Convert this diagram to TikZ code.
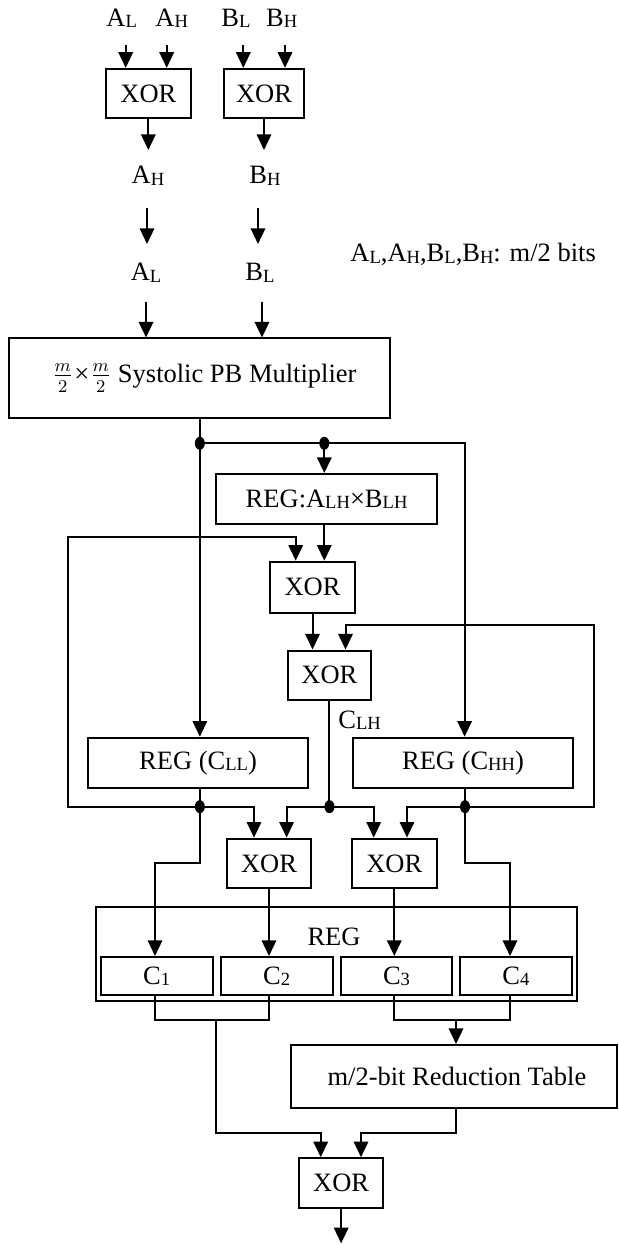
\documentclass[tikz,border=0pt]{standalone}
\usepackage{fontspec}
\setmainfont{Liberation Serif}
\usetikzlibrary{arrows.meta,shapes.geometric}
% small, slightly lowered index letters
\newcommand{\sbs}[1]{\raisebox{-0.6pt}{\fontsize{9.3}{10}\selectfont #1}}

\begin{document}
\begin{tikzpicture}[x=0.5pt,y=-0.5pt,
  font=\fontsize{13.25}{15}\selectfont,
  wire/.style={line width=1pt},
  arr/.style={wire,-{Triangle[length=7.8pt,width=7.2pt]}},
  box/.style={draw,line width=1pt,inner sep=0pt,rectangle},
  xorbox/.style={box,minimum width=42.3pt,minimum height=24.8pt},
  cbox/.style={box,minimum width=55.9pt,minimum height=19pt},
  lbl/.style={inner sep=0pt,anchor=base},
  jdot/.style={ellipse,fill,inner sep=0pt,minimum width=5pt,minimum height=6.5pt}]
\useasboundingbox (0,0) rectangle (619,1245);

% ---- operand halves and the two pre-adders ----
\node[lbl] (al) at (121.7,26.7) {A\sbs{L}};
\node[lbl] (ah) at (171.7,26.7) {A\sbs{H}};
\node[lbl] (bl) at (236,26.7) {B\sbs{L}};
\node[lbl] (bh) at (281.7,26.7) {B\sbs{H}};
\coordinate (al0) at (125.7,45);
\coordinate (ah0) at (166.7,45);
\coordinate (bl0) at (243.3,45);
\coordinate (bh0) at (285,45);

\node[xorbox] (xa) at (148.35,93.65) {XOR};
\node[xorbox,minimum width=40pt] (xb) at (264,93.65) {XOR};
\draw[arr] (al0) -- (al0 |- xa.north);
\draw[arr] (ah0) -- (ah0 |- xa.north);
\draw[arr] (bl0) -- (bl0 |- xb.north);
\draw[arr] (bh0) -- (bh0 |- xb.north);

\coordinate (ah2t) at (148.35,150);
\coordinate (bh2t) at (264,150);
\draw[arr] (xa.south) -- (ah2t);
\draw[arr] (xb.south) -- (bh2t);

\node[lbl] (ah2) at (148,184) {A\sbs{H}};
\node[lbl] (bh2) at (265,184) {B\sbs{H}};
\coordinate (m1s) at (147,208.3);
\coordinate (m1e) at (147,244);
\coordinate (m2s) at (258,208.3);
\coordinate (m2e) at (258,244);
\draw[arr] (m1s) -- (m1e);
\draw[arr] (m2s) -- (m2e);

\node[lbl] (al2) at (146,281) {A\sbs{L}};
\node[lbl] (bl2) at (260,281) {B\sbs{L}};
\node[lbl,anchor=base west] (note) at (350,262)
  {A\sbs{L},A\sbs{H},B\sbs{L},B\sbs{H}: m/2 bits};

% ---- half-size multiplier ----
\node[box,minimum width=190.55pt,minimum height=39.9pt] (mul) at (199.85,378.4)
  {\hspace*{4.5pt}$\frac{m}{2}$\kern0.5pt×\kern0.5pt$\frac{m}{2}$ Systolic PB Multiplier};
\coordinate (l1s) at (146,302);
\coordinate (l2s) at (262,302);
\draw[arr] (l1s) -- (l1s |- mul.north);
\draw[arr] (l2s) -- (l2s |- mul.north);

% ---- junctions ----
\node[jdot] (d1) at (199.85,443.3) {};
\node[jdot] (d2) at (324.3,443.3) {};
\node[jdot] (d3) at (199.85,806.7) {};
\node[jdot] (d4) at (329.45,806.7) {};
\node[jdot] (d5) at (465,806.7) {};

% ---- registers and Karatsuba adders ----
\node[box,minimum width=110.2pt,minimum height=25.15pt] (rlh) at (326.6,499.15)
  {REG:A\sbs{LH}×B\sbs{LH}};
\node[xorbox,minimum width=42.5pt,minimum height=25.5pt] (x1) at (312.5,587.2) {XOR};
\node[xorbox,minimum width=41.95pt] (x2) at (329.45,675.35) {XOR};
\node[box,minimum width=110pt,minimum height=25.3pt] (rcll) at (198,763) {REG (C\sbs{LL})};
\node[box,minimum width=110pt,minimum height=25.3pt] (rchh) at (463,763) {REG (C\sbs{HH})};
\node[xorbox] (x3) at (269,863.4) {XOR};
\node[xorbox] (x4) at (394.3,863.4) {XOR};
\node[lbl,anchor=base west] (clh) at (338,728) {C\sbs{LH}};

\coordinate (rt1) at (464.6,443.3);
\draw[wire] (mul.south) -- (d1.center);
\draw[arr] (d1.center) -- (d1 |- rcll.north);
\draw[arr] (d1.center) -- (rt1) -- (rt1 |- rchh.north);
\draw[arr] (d2.center) -- (d2 |- rlh.north);
\draw[arr] (d2 |- rlh.south) -- (d2 |- x1.north);

% C_LL fed back to the first adder
\coordinate (lp1) at (67.7,806.7);
\coordinate (lp2) at (67.7,537.3);
\coordinate (lp3) at (295.7,537.3);
\draw[arr] (d3.center) -- (lp1) -- (lp2) -- (lp3) -- (lp3 |- x1.north);
\draw[arr] (x1.south) -- (x1.south |- x2.north);

% C_HH fed back to the second adder
\coordinate (rp1) at (593.5,806.7);
\coordinate (rp2) at (593.5,624.5);
\coordinate (rp3) at (345.5,624.5);
\draw[arr] (d5.center) -- (rp1) -- (rp2) -- (rp3) -- (rp3 |- x2.north);

\draw[wire] (x2.south) -- (d4.center);
\draw[wire] (d3 |- rcll.south) -- (d3.center);
\draw[wire] (d5 |- rchh.south) -- (d5.center);

\coordinate (a1) at (254,806.7);
\coordinate (a2) at (286.6,806.7);
\coordinate (a3) at (373.7,806.7);
\coordinate (a4) at (407,806.7);
\draw[arr] (d3.center) -- (a1) -- (a1 |- x3.north);
\draw[arr] (d4.center) -- (a2) -- (a2 |- x3.north);
\draw[arr] (d4.center) -- (a3) -- (a3 |- x4.north);
\draw[arr] (d5.center) -- (a4) -- (a4 |- x4.north);

% ---- result register ----
\node[box,minimum width=240.35pt,minimum height=47.15pt] (regall) at (336.35,953.85) {};
\node[lbl] (reglbl) at (334,945) {REG};
\node[cbox,minimum width=56pt] (c1) at (156.7,976) {C\sbs{1}};
\node[cbox] (c2) at (276.6,976) {C\sbs{2}};
\node[cbox,minimum width=55.8pt] (c3) at (396.5,976) {C\sbs{3}};
\node[cbox] (c4) at (515.85,976) {C\sbs{4}};

\coordinate (b1) at (199.85,862.7);
\coordinate (b2) at (155,862.7);
\coordinate (b3) at (465,862.7);
\coordinate (b4) at (510,862.7);
\draw[arr] (d3.center) -- (b1) -- (b2) -- (b2 |- c1.north);
\draw[arr] (d5.center) -- (b3) -- (b4) -- (b4 |- c4.north);
\draw[arr] (x3.south) -- (x3.south |- c2.north);
\draw[arr] (x4.south) -- (x4.south |- c3.north);

% ---- reduction and final adder ----
\node[box,minimum width=163.15pt,minimum height=31.35pt] (red) at (453.85,1076.35)
  {\hspace*{3pt}m/2-bit Reduction Table};
\node[xorbox] (x5) at (341.15,1183) {XOR};

\coordinate (k1) at (155,1020);
\coordinate (k2) at (269,1020);
\coordinate (k3) at (216,1020);
\coordinate (k4) at (216,1133.3);
\coordinate (k5) at (320.7,1133.3);
\draw[wire] (b2 |- c1.south) -- (k1) -- (k2) -- (x3.south |- c2.south);
\draw[arr] (k3) -- (k4) -- (k5) -- (k5 |- x5.north);

\coordinate (k6) at (394.3,1020);
\coordinate (k7) at (510,1020);
\coordinate (k8) at (456,1020);
\coordinate (k9) at (456,1133.3);
\coordinate (k10) at (361,1133.3);
\draw[wire] (x4.south |- c3.south) -- (k6) -- (k7) -- (b4 |- c4.south);
\draw[arr] (k8) -- (k8 |- red.north);
\draw[arr] (k8 |- red.south) -- (k9) -- (k10) -- (k10 |- x5.north);

\coordinate (k11) at (341.15,1243.3);
\draw[arr] (x5.south) -- (k11);
\end{tikzpicture}
\end{document}
